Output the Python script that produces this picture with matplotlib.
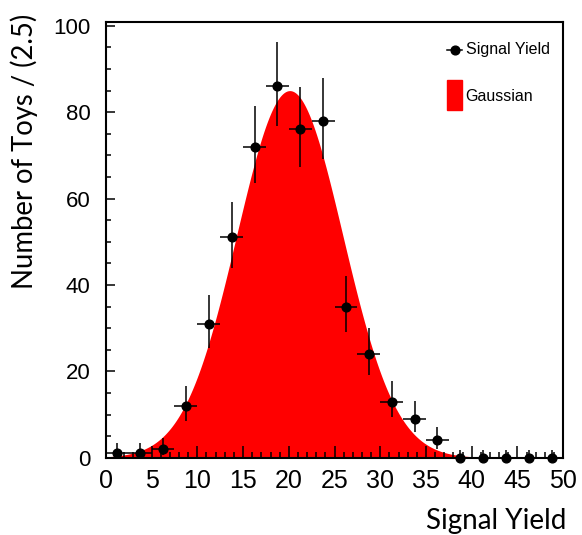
import numpy as np
import matplotlib
matplotlib.use("Agg")
import matplotlib.pyplot as plt
from matplotlib.patches import Rectangle
from matplotlib.ticker import MultipleLocator

# toy-study histogram: bin centres (width 2.5) and counts
bin_centers = [1.25, 3.75, 6.25, 8.75, 11.25, 13.75, 16.25, 18.75, 21.25, 23.75,
               26.25, 28.75, 31.25, 33.75, 36.25, 38.75, 41.25, 43.75, 46.25, 48.75]
counts = [1, 1, 2, 12, 31, 51, 72, 86, 76, 78,
          35, 24, 13, 9, 4, 0, 0, 0, 0, 0]
# asymmetric (Poisson) errors, as drawn
err_low = [0.83, 0.83, 1.29, 3.42, 5.53, 7.12, 8.46, 9.26, 8.70, 8.81,
           5.88, 4.86, 3.56, 2.94, 1.91, 0, 0, 0, 0, 0]
err_high = [2.30, 2.30, 2.64, 4.55, 6.63, 8.19, 9.52, 10.3, 9.75, 9.86,
            6.97, 5.97, 4.69, 4.11, 3.16, 1.84, 1.84, 1.84, 1.84, 1.84]
bin_half = 1.25

# fitted gaussian
gauss_mean = 20.1
gauss_sigma = 5.8
gauss_peak = 85.0

RED = "#ff0000"
TICK_FONT = "Liberation Sans"
TITLE_FONT = "Lato"

fig = plt.figure(figsize=(5.82, 5.35), dpi=100)
ax = fig.add_axes([0.182, 0.1445, 0.7855, 0.8153])

xs = np.linspace(0, 50, 600)
ys = gauss_peak * np.exp(-0.5 * ((xs - gauss_mean) / gauss_sigma) ** 2)
ax.fill_between(xs, 0, ys, color=RED, lw=0, zorder=1)

ax.errorbar(bin_centers, counts, yerr=[err_low, err_high], xerr=bin_half,
            fmt="o", color="black", ms=6.3, elinewidth=1.1, capsize=0,
            zorder=3, clip_on=False)

ax.set_xlim(0, 50)
ax.set_ylim(0, 101)
ax.xaxis.set_major_locator(MultipleLocator(5))
ax.xaxis.set_minor_locator(MultipleLocator(1))
ax.yaxis.set_major_locator(MultipleLocator(20))
ax.yaxis.set_minor_locator(MultipleLocator(5))
ax.tick_params(axis="x", which="major", direction="in", length=8.5, width=1.1,
               pad=8, labelsize=18)
ax.tick_params(axis="x", which="minor", direction="in", length=4.3, width=1.1)
ax.tick_params(axis="y", which="major", direction="in", length=6.5, width=1.1,
               pad=11, labelsize=16)
ax.tick_params(axis="y", which="minor", direction="in", length=3.6, width=1.1)
for lab in ax.get_xticklabels() + ax.get_yticklabels():
    lab.set_fontfamily(TICK_FONT)
for sp in ax.spines.values():
    sp.set_linewidth(1.5)

# legend drawn by hand in axes coords
ax.plot([0.746, 0.779], [0.9347, 0.9347], color="black", lw=1.1,
        transform=ax.transAxes)
ax.plot([0.7625], [0.9347], "o", color="black", ms=6.3, transform=ax.transAxes)
ax.text(0.787, 0.9347, "Signal Yield", transform=ax.transAxes, va="center",
        ha="left", fontsize=11.5, family=TICK_FONT)
ax.add_patch(Rectangle((0.746, 0.797), 0.033, 0.069, color=RED,
                       transform=ax.transAxes))
ax.text(0.787, 0.829, "Gaussian", transform=ax.transAxes, va="center",
        ha="left", fontsize=11.5, family=TICK_FONT)

fig.text(24 / 582, 1 - 14 / 535, "Number of Toys / (2.5)", rotation=90,
         ha="center", va="top", fontsize=19.8, family=TITLE_FONT)
fig.text(566 / 582, 6 / 535, "Signal Yield", ha="right", va="baseline",
         fontsize=20, family=TITLE_FONT)

fig.savefig("out.png", dpi=100)
